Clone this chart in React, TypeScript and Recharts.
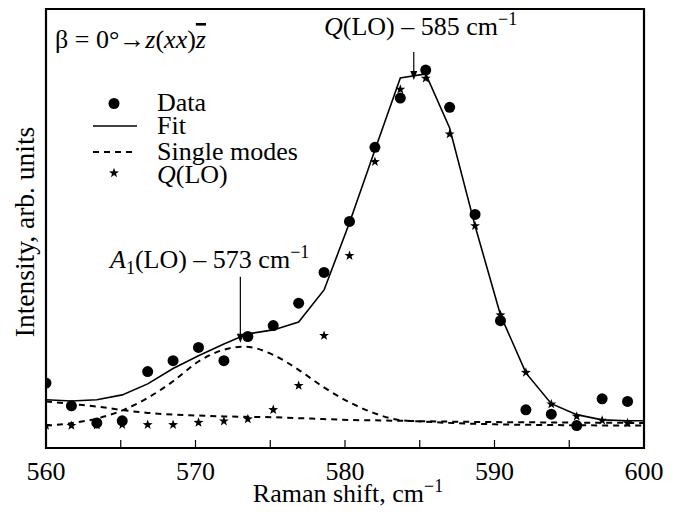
import React from "react"
import { ComposedChart, Line, Scatter, XAxis, YAxis, ReferenceArea, ReferenceLine } from "recharts"

// Raman shift positions of the measured points (cm^-1)
const shift = [
  560.0, 561.7, 563.4, 565.1, 566.8, 568.5, 570.2, 571.9, 573.5, 575.2, 576.9, 578.6,
  580.3, 582.0, 583.7, 585.4, 587.0, 588.7, 590.4, 592.1, 593.8, 595.5, 597.2, 598.9,
]
const measured = [
  14.8, 9.6, 5.7, 6.2, 17.4, 19.9, 22.9, 19.9, 25.4, 27.9, 33.0, 40.0,
  51.6, 68.5, 79.7, 86.1, 77.6, 53.2, 29.0, 8.7, 7.7, 5.1, 11.2, 10.6,
]
const qlo = [
  5.1, 5.1, 5.2, 5.3, 5.3, 5.3, 5.8, 6.1, 6.6, 8.7, 14.2, 25.6,
  43.8, 65.2, 81.7, 84.2, 71.5, 50.6, 30.3, 17.2, 10.0, 7.2, 6.3, 5.7,
]

const fitShift = [...shift, 600]
const fit = [
  11.0, 10.7, 11.0, 12.1, 14.6, 18.1, 21.0, 23.7, 26.0, 26.9, 28.7, 36.0,
  51.3, 67.9, 84.3, 85.2, 72.9, 50.6, 30.3, 17.1, 10.1, 7.6, 6.4, 6.2, 6.2,
]

// single modes (dashed)
const modeShift = [
  560, 561.8, 563.5, 565.2, 566.8, 568.5, 570.2, 571.9, 573.3, 575.2,
  576.9, 578.5, 580.2, 581.9, 583.6, 585.3, 590, 595, 600,
]
const a1Mode = [5.1, 5.7, 6.8, 8.7, 11.4, 15.2, 19.7, 22.4, 23.1, 21.2, 17.8, 14.0, 10.6, 8.0, 6.4, 6.0, 5.4, 5.2, 5.1]
const background = [10.6, 10.0, 9.4, 8.6, 8.0, 7.6, 7.4, 7.2, 7.1, 7.0, 6.8, 6.6, 6.4, 6.3, 6.2, 6.1, 5.9, 5.8, 5.7]

const xTicks = [560, 565, 570, 575, 580, 585, 590, 595, 600]

const pts = (xs: number[], ys: number[]) => xs.map((x, i) => ({ x, y: ys[i] }))

const FONT = "'Liberation Serif', 'DejaVu Serif', 'Times New Roman', serif"
const FS = 26

const DotShape = (p: any) => <circle cx={p.cx} cy={p.cy} r={5.5} fill="#000" />

const starPoints = (cx: number, cy: number, ro = 5.2, ri = 2.1) => {
  const out: string[] = []
  for (let i = 0; i < 10; i++) {
    const r = i % 2 === 0 ? ro : ri
    const a = -Math.PI / 2 + (i * Math.PI) / 5
    out.push(`${cx + r * Math.cos(a)},${cy + r * Math.sin(a)}`)
  }
  return out.join(" ")
}
const StarShape = (p: any) => <polygon points={starPoints(p.cx, p.cy)} fill="#000" />

const Arrow = (p: any) => {
  const { x1, y1, x2, y2 } = p
  return (
    <g>
      <line x1={x1} y1={y1} x2={x2} y2={y2 - 6} stroke="#000" strokeWidth={1.2} />
      <path d={`M${x2 - 3.5},${y2 - 9} L${x2 + 3.5},${y2 - 9} L${x2},${y2} Z`} fill="#000" />
    </g>
  )
}

export default function App() {
  return (
    <div style={{ position: "absolute", left: 0, top: 0, width: 676, height: 516, background: "#fff" }}>
      <ComposedChart width={676} height={516} margin={{ top: 9, right: 32, bottom: 38, left: 46 }}>
        <XAxis
          type="number"
          dataKey="x"
          domain={[560, 600]}
          ticks={xTicks}
          allowDataOverflow
          height={30}
          axisLine={false}
          tickSize={-8}
          tickMargin={22}
          tickLine={{ stroke: "#000", strokeWidth: 1.2 }}
          tick={{ fill: "#000", fontSize: FS, style: { fontFamily: FONT } }}
          tickFormatter={(v: number) => (v % 10 === 0 ? String(v) : "")}
        />
        <YAxis type="number" dataKey="y" domain={[0, 100]} hide width={0} allowDataOverflow />
        <Line data={pts(modeShift, background)} dataKey="y" type="monotone" stroke="#000" strokeWidth={2} strokeDasharray="6 5" dot={false} isAnimationActive={false} />
        <Line data={pts(modeShift, a1Mode)} dataKey="y" type="monotone" stroke="#000" strokeWidth={2} strokeDasharray="6 5" dot={false} isAnimationActive={false} />
        <Line data={pts(fitShift, fit)} dataKey="y" type="linear" stroke="#000" strokeWidth={1.6} dot={false} isAnimationActive={false} />
        <Scatter data={pts(shift, qlo)} shape={StarShape} isAnimationActive={false} />
        <Scatter data={pts(shift, measured)} shape={DotShape} isAnimationActive={false} />
        <ReferenceArea x1={560} x2={600} y1={0} y2={100} fill="none" stroke="#000" strokeWidth={2.2} ifOverflow="visible" />
        <ReferenceLine segment={[{ x: 573, y: 39 }, { x: 573, y: 24 }]} shape={Arrow} ifOverflow="visible" />
        <ReferenceLine segment={[{ x: 584.6, y: 90.2 }, { x: 584.6, y: 83.8 }]} shape={Arrow} ifOverflow="visible" />
      </ComposedChart>
      <svg
        width={676}
        height={516}
        style={{ position: "absolute", left: 0, top: 0, pointerEvents: "none", fontFamily: FONT }}
        fontSize={FS}
        fill="#000"
      >
        <text x={55} y={48}>
          β = 0°→<tspan fontStyle="italic">z</tspan>(<tspan fontStyle="italic">xx</tspan>)<tspan fontStyle="italic" style={{ textDecoration: "overline" }}>z</tspan>
        </text>

        <circle cx={114} cy={103.5} r={5.5} fill="#000" />
        <text x={157} y={111}>Data</text>
        <line x1={93} x2={137} y1={126} y2={126} stroke="#000" strokeWidth={1.6} />
        <text x={157} y={134}>Fit</text>
        <line x1={93} x2={137} y1={152} y2={152} stroke="#000" strokeWidth={2} strokeDasharray="6 5" />
        <text x={157} y={160}>Single modes</text>
        <polygon points={starPoints(114, 173)} fill="#000" />
        <text x={157} y={183}>
          <tspan fontStyle="italic">Q</tspan>(LO)
        </text>

        <text x={324} y={35}>
          <tspan fontStyle="italic">Q</tspan>(LO) – 585 cm<tspan dy={-10} fontSize={18}>−1</tspan>
        </text>
        <text x={110} y={268}>
          <tspan fontStyle="italic">A</tspan>
          <tspan dy={6} fontSize={18}>1</tspan>
          <tspan dy={-6}>(LO) – 573 cm</tspan>
          <tspan dy={-10} fontSize={18}>−1</tspan>
        </text>

        <text x={348} y={502} textAnchor="middle">
          Raman shift, cm<tspan dy={-10} fontSize={18}>−1</tspan>
        </text>
        <text transform="translate(34,232) rotate(-90)" textAnchor="middle" fontSize={27.5}>
          Intensity, arb. units
        </text>
      </svg>
    </div>
  )
}
